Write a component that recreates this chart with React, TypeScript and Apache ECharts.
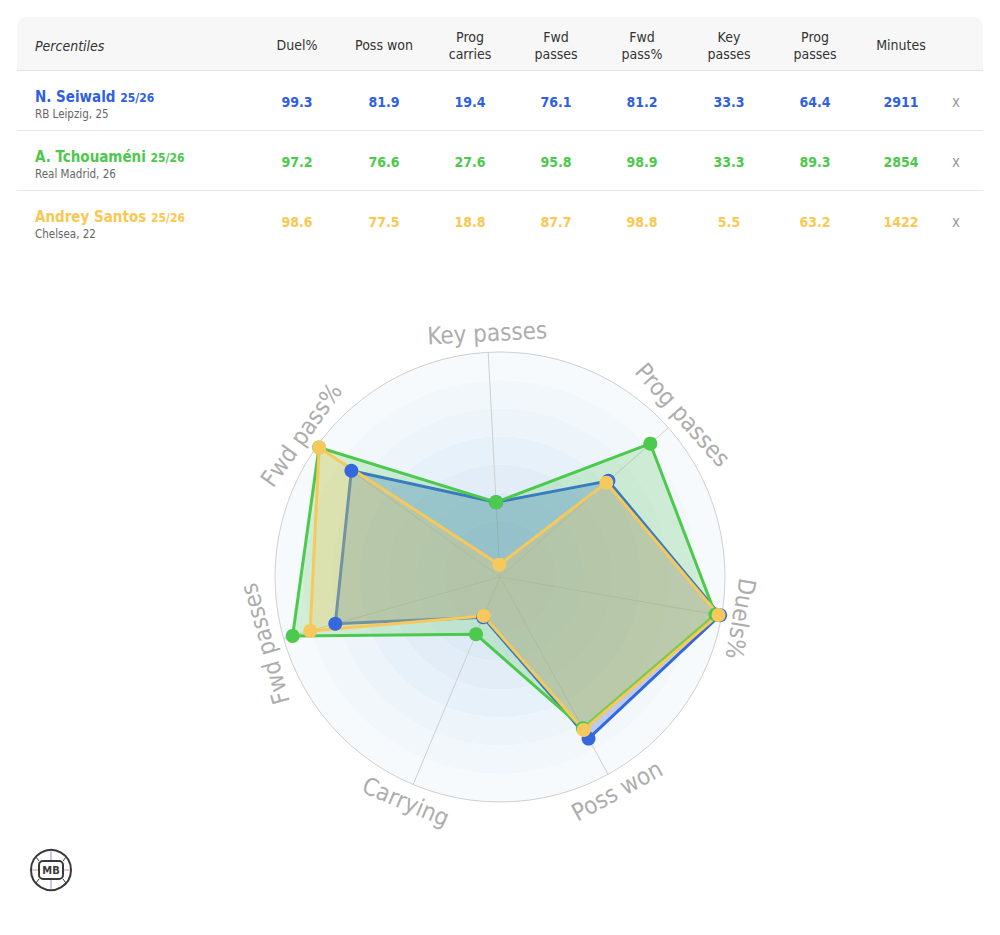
import React, { useEffect, useRef } from "react";
import * as echarts from "echarts";

// ---- data ----
const STAT_HEADERS = ["Duel%", "Poss won", "Prog\ncarries", "Fwd\npasses", "Fwd\npass%", "Key\npasses", "Prog\npasses", "Minutes"];
const PLAYER_NAMES = ["N. Seiwald", "A. Tchouaméni", "Andrey Santos"];
const SEASONS = ["25/26", "25/26", "25/26"];
const CLUBS = ["RB Leipzig, 25", "Real Madrid, 26", "Chelsea, 22"];
const SEIWALD = [99.3, 81.9, 19.4, 76.1, 81.2, 33.3, 64.4];
const TCHOUAMENI = [97.2, 76.6, 27.6, 95.8, 98.9, 33.3, 89.3];
const SANTOS = [98.6, 77.5, 18.8, 87.7, 98.8, 5.5, 63.2];
const MINUTES = [2911, 2854, 1422];
const RADAR_AXES = ["Key passes", "Fwd pass%", "Fwd passes", "Carrying", "Poss won", "Duels%", "Prog passes"];
const AXIS_TO_STAT = [5, 4, 3, 2, 1, 0, 6];

// ---- styles ----
const TEXT_COLORS = ["#2f5fe3", "#4cc94c", "#f9c851"];
const LINE_COLORS = ["#3468dc", "#4dca4d", "#f7c95c"];
const AREA_OPACITY = [0.3, 0.22, 0.3];
const FONT = "'DejaVu Sans Condensed', 'DejaVu Sans', sans-serif";
const COL_X = [297, 384, 470, 556, 642, 729, 815, 901];
const CX = 500;
const CY = 577;
const R = 225;
const START = 93;

const PLAYER_STATS = [SEIWALD, TCHOUAMENI, SANTOS];

export default function App() {
  const ref = useRef<HTMLDivElement>(null);

  useEffect(() => {
    const chart = echarts.init(ref.current!, null, { renderer: "svg" });
    const n = RADAR_AXES.length;
    const labelR = R + 19;
    const labels = RADAR_AXES.map((name, i) => {
      const th = START + (i * 360) / n;
      const rad = (th * Math.PI) / 180;
      let rot = th - 90;
      if (Math.sin(rad) < -0.3) rot += 180;
      rot = ((rot % 360) + 540) % 360 - 180;
      return {
        type: "text",
        x: CX + labelR * Math.cos(rad),
        y: CY - labelR * Math.sin(rad),
        rotation: (rot * Math.PI) / 180,
        silent: true,
        style: {
          text: name,
          fill: "#adadad",
          font: `24px ${FONT}`,
          align: "center",
          verticalAlign: "middle",
        },
      };
    });

    const logo = {
      type: "group",
      x: 51,
      y: 870,
      children: [
        { type: "circle", shape: { cx: 0, cy: 0, r: 20 }, style: { fill: "#fff", stroke: "#3a3a3a", lineWidth: 2 } },
        { type: "line", shape: { x1: 0, y1: -19, x2: 0, y2: -9 }, style: { stroke: "#9b8fd0", lineWidth: 1 } },
        { type: "line", shape: { x1: 0, y1: 9, x2: 0, y2: 19 }, style: { stroke: "#9b8fd0", lineWidth: 1 } },
        { type: "line", shape: { x1: -19, y1: 0, x2: -12, y2: 0 }, style: { stroke: "#e08aa0", lineWidth: 1 } },
        { type: "line", shape: { x1: 12, y1: 0, x2: 19, y2: 0 }, style: { stroke: "#e08aa0", lineWidth: 1 } },
        { type: "line", shape: { x1: -12, y1: -9, x2: -15, y2: -13 }, style: { stroke: "#3a3a3a", lineWidth: 1 } },
        { type: "line", shape: { x1: 12, y1: -9, x2: 15, y2: -13 }, style: { stroke: "#3a3a3a", lineWidth: 1 } },
        { type: "line", shape: { x1: -12, y1: 9, x2: -15, y2: 13 }, style: { stroke: "#3a3a3a", lineWidth: 1 } },
        { type: "line", shape: { x1: 12, y1: 9, x2: 15, y2: 13 }, style: { stroke: "#3a3a3a", lineWidth: 1 } },
        { type: "rect", shape: { x: -12, y: -9, width: 24, height: 18, r: 4 }, style: { fill: "#fff", stroke: "#3a3a3a", lineWidth: 2 } },
        { type: "text", x: 0, y: 0.5, style: { text: "MB", fill: "#3a3a3a", font: `bold 11px ${FONT}`, align: "center", verticalAlign: "middle" } },
      ],
    };

    const ringLines = ["transparent", "transparent", "transparent", "transparent", "transparent", "transparent", "transparent", "transparent", "#cfcfcf"];

    const option = {
      animation: false,
      radar: {
        center: [CX, CY],
        radius: R,
        startAngle: START,
        shape: "circle",
        splitNumber: 8,
        indicator: RADAR_AXES.map((name) => ({ name, min: 0, max: 100 })),
        axisName: { show: false },
        axisLine: { lineStyle: { color: "#cfcfcf", width: 1 } },
        axisTick: { show: false },
        axisLabel: { show: false },
        splitLine: { lineStyle: { color: ringLines, width: 1 } },
        splitArea: {
          areaStyle: {
            color: ["#dbe9f5", "#dce9f5", "#deebf6", "#e2edf7", "#e7f1f9", "#edf4fa", "#f2f7fc", "#f6fafd"],
          },
        },
      },
      series: [
        {
          type: "radar",
          symbol: "circle",
          symbolSize: 14,
          data: PLAYER_STATS.map((stats, p) => ({
            name: PLAYER_NAMES[p],
            value: AXIS_TO_STAT.map((j) => stats[j]),
            lineStyle: { color: LINE_COLORS[p], width: 3 },
            itemStyle: { color: LINE_COLORS[p] },
            areaStyle: { color: LINE_COLORS[p], opacity: AREA_OPACITY[p] },
          })),
        },
      ],
      graphic: [...labels, logo],
    };
    chart.setOption(option as any);
    return () => chart.dispose();
  }, []);

  const rows = PLAYER_NAMES.map((name, p) => {
    const stats = PLAYER_STATS[p];
    const vals = [...stats.map((v) => v.toFixed(1)), String(MINUTES[p])];
    return (
      <div
        key={name}
        style={{
          position: "absolute",
          left: 0,
          top: 54 + p * 60,
          width: 966,
          height: 59,
          borderBottom: p < 2 ? "1px solid #e6e6e6" : "none",
        }}
      >
        <div style={{ position: "absolute", left: 18, top: 17 }}>
          <div style={{ lineHeight: "18px", fontSize: 15, fontWeight: "bold", color: TEXT_COLORS[p], whiteSpace: "nowrap" }}>
            {name} <span style={{ fontSize: 12 }}>{SEASONS[p]}</span>
          </div>
          <div style={{ lineHeight: "14px", fontSize: 11.5, color: "#666", whiteSpace: "nowrap" }}>{CLUBS[p]}</div>
        </div>
        {vals.map((v, k) => (
          <div
            key={k}
            style={{
              position: "absolute",
              left: COL_X[k] - 17 - 45,
              width: 90,
              top: 1,
              height: 60,
              display: "flex",
              alignItems: "center",
              justifyContent: "center",
              fontSize: 14,
              fontWeight: "bold",
              color: TEXT_COLORS[p],
            }}
          >
            {v}
          </div>
        ))}
        <div
          style={{
            position: "absolute",
            left: 956 - 17 - 10,
            width: 20,
            top: 1,
            height: 60,
            display: "flex",
            alignItems: "center",
            justifyContent: "center",
            fontSize: 15,
            color: "#9a9a9a",
          }}
        >
          x
        </div>
      </div>
    );
  });

  return (
    <div
      style={{
        position: "fixed",
        left: 0,
        top: 0,
        width: 1000,
        height: 935,
        background: "#fff",
        fontFamily: FONT,
        overflow: "hidden",
      }}
    >
      <div ref={ref} style={{ position: "absolute", left: 0, top: 0, width: 1000, height: 935 }} />
      <div style={{ position: "absolute", left: 17, top: 17, width: 966, height: 234 }}>
        <div
          style={{
            position: "absolute",
            left: 0,
            top: 0,
            width: 966,
            height: 53,
            background: "#f7f7f7",
            borderRadius: "10px 10px 0 0",
            borderBottom: "1px solid #e2e2e2",
          }}
        >
          <div
            style={{
              position: "absolute",
              left: 18,
              top: 2,
              height: 53,
              display: "flex",
              alignItems: "center",
              fontSize: 14,
              fontStyle: "italic",
              color: "#333",
            }}
          >
            Percentiles
          </div>
          {STAT_HEADERS.map((h, k) => (
            <div
              key={h}
              style={{
                position: "absolute",
                left: COL_X[k] - 17 - 45,
                width: 90,
                top: 2,
                height: 53,
                display: "flex",
                alignItems: "center",
                justifyContent: "center",
                textAlign: "center",
                whiteSpace: "pre-line",
                lineHeight: "17px",
                fontSize: 14,
                color: "#333",
              }}
            >
              {h}
            </div>
          ))}
        </div>
        {rows}
      </div>
    </div>
  );
}
